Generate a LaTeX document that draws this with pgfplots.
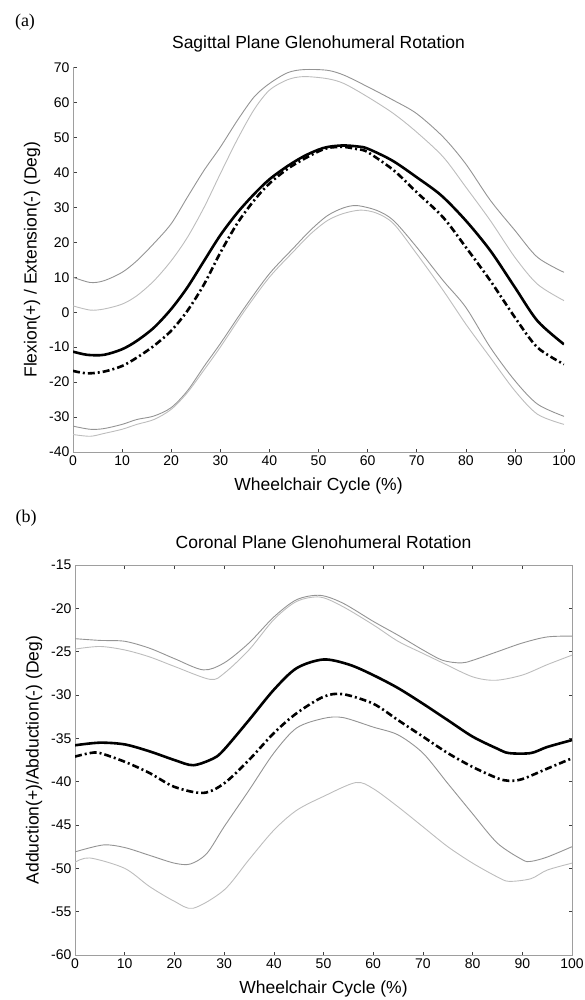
\documentclass[border=0pt]{standalone}
\usepackage{fontspec}
\setmainfont{Liberation Sans}
\newfontfamily\seriffont{Liberation Serif}
\usepackage{pgfplots}
\pgfplotsset{compat=1.18}

\definecolor{gdark}{gray}{0.58}
\definecolor{glight}{gray}{0.74}
\definecolor{axgray}{gray}{0.62}

\pgfplotsset{
  gaitaxis/.style={
    scale only axis,
    font=\fontsize{14}{16}\selectfont,
    tick align=inside, major tick length=3.5pt,
    axis line style={axgray, line width=0.9pt},
    tick style={black!75, line width=0.6pt},
    xmin=0, xmax=100, xtick={0,10,...,100},
    /pgf/number format/assume math mode=true,
    xlabel={Wheelchair Cycle (\%)},
    label style={font=\fontsize{17.5}{20}\selectfont},
    title style={font=\fontsize{17.5}{20}\selectfont, at={(axis description cs:0.5,1)}, anchor=center, yshift=17.5pt},
    xlabel style={at={(axis description cs:0.5,0)}, anchor=center, yshift=-34pt},
    ylabel style={at={(axis description cs:0,0.5)}, anchor=center, rotate=0, yshift=41pt},
  },
  meanA/.style={black, line width=2.6pt, smooth},
  meanB/.style={black, line width=2.6pt, smooth, dash pattern=on 7pt off 3pt on 2pt off 3pt},
  sdA/.style={gdark, line width=0.9pt, smooth},
  sdB/.style={glight, line width=0.9pt, smooth},
}

\begin{document}
\begin{tikzpicture}
\useasboundingbox (0,0) rectangle (584pt,-1000pt);

\node[font=\seriffont\fontsize{18}{20}\selectfont] at (25pt,-22pt) {(a)};
\node[font=\seriffont\fontsize{18}{20}\selectfont] at (26pt,-518pt) {(b)};

% (a) sagittal plane
\begin{axis}[gaitaxis,
    at={(73pt,-452pt)}, anchor=south west,
    width=491pt, height=384.5pt,
    axis x line*=bottom, axis y line*=left,
    ymin=-40, ymax=70, ytick={-40,-30,...,70},
    title={Sagittal Plane Glenohumeral Rotation},
    ylabel={Flexion(+) / Extension(-) (Deg)}]
\addplot[sdA] coordinates {(0,10.0)(3.5,8.5)(6.3,9.0)(10,11.4)(13,14.7)(16.5,19.7)(20,25.3)(23.3,32.9)(26.7,40.6)(30,47.2)(33.5,54.9)(36.9,61.6)(40,65.4)(43.7,68.5)(47,69.4)(51.8,69.2)(55.2,67.8)(60,64.5)(65.3,60.6)(70,56.8)(75.4,50.1)(80,42.4)(85,32.0)(90,23.4)(94.6,15.7)(100,11.4)};
\addplot[sdB] coordinates {(0,1.8)(3.5,0.6)(6.3,0.9)(10,2.3)(13,4.7)(16.5,9.0)(20,14.7)(23.3,21.4)(26.7,30.0)(30,39.6)(33.5,49.5)(36.9,58.0)(40,63.5)(43.7,66.5)(47,67.4)(51.8,66.8)(55.2,65.4)(60,61.6)(65.3,56.8)(70,51.5)(75.4,44.4)(80,35.8)(85,26.2)(90,15.7)(94.6,8.0)(100,3.3)};
\addplot[sdA] coordinates {(0,-32.6)(3.5,-33.5)(6.3,-33.3)(10,-32.1)(13,-30.7)(16.5,-29.7)(20,-27.3)(23.3,-22.5)(26.7,-15.5)(30,-9.0)(35,1.4)(40,11.0)(45,18.5)(48.4,23.5)(51.8,27.6)(55,29.8)(57.8,30.5)(61.9,29.1)(65.3,26.2)(70,18.6)(75.4,9.0)(80,1.4)(85,-10.1)(90,-19.6)(94.6,-26.3)(100,-29.8)};
\addplot[sdB] coordinates {(0,-35.0)(3.5,-35.5)(6.3,-34.7)(10,-33.5)(13,-32.1)(16.5,-30.7)(20,-27.8)(23.3,-23.0)(26.7,-16.5)(30,-10.0)(35,0.5)(40,10.0)(45,17.5)(48.4,22.4)(51.8,26.2)(55,28.2)(58.6,29.2)(61.9,28.3)(65.3,25.3)(70,16.7)(75.4,6.2)(80,-3.4)(85,-13.0)(90,-22.5)(94.6,-29.2)(100,-32.1)};
\addplot[meanA] coordinates {(0,-11.3)(2.9,-12.2)(6.3,-12.2)(10,-10.6)(13,-8.2)(16.5,-4.4)(20,0.9)(23.3,7.1)(26.7,14.7)(30,22.0)(33.5,28.5)(36.9,33.8)(40,38.0)(43.7,41.8)(47,44.6)(50,46.5)(52,47.3)(55,47.7)(58,47.4)(60,46.8)(65,43.4)(70,38.6)(75,33.4)(80,26.2)(85,17.6)(90,7.1)(94.6,-2.5)(100,-9.2)};
\addplot[meanB] coordinates {(0,-16.8)(2.9,-17.5)(6.3,-17.0)(10,-15.4)(13,-13.0)(16.5,-9.6)(20,-5.3)(23.3,0.4)(26.7,8.0)(30,17.0)(33.5,25.5)(36.9,32.0)(40,36.8)(43.7,41.0)(47,43.8)(50,46.0)(52,47.0)(55,47.3)(58,46.6)(60,45.8)(65.3,40.6)(70,34.3)(75.4,27.1)(80,18.6)(85,9.0)(90,-1.5)(94.6,-10.1)(100,-14.9)};
\end{axis}

% (b) coronal plane
\begin{axis}[gaitaxis,
    at={(75pt,-955pt)}, anchor=south west,
    width=497pt, height=390pt,
    ymin=-60, ymax=-15, ytick={-60,-55,...,-15},
    title style={yshift=-0.5pt},
    title={Coronal Plane Glenohumeral Rotation},
    ylabel={Adduction(+)/Abduction(-) (Deg)}]
\addplot[sdA] coordinates {(0,-23.5)(5,-23.7)(10,-23.8)(15,-24.6)(20,-25.8)(25.8,-27.1)(30,-26.3)(35,-24.0)(40,-21.0)(44.6,-19.0)(49.3,-18.5)(53.9,-19.4)(60,-21.5)(65,-23.1)(70,-24.8)(74,-26.0)(77.7,-26.3)(80,-26.0)(85,-25.0)(90,-24.0)(95,-23.3)(100,-23.2)};
\addplot[sdB] coordinates {(0,-24.7)(5,-24.4)(10,-24.8)(15,-25.6)(20,-26.7)(27.2,-28.2)(30,-27.5)(35,-24.8)(40,-21.3)(44.6,-19.2)(49.3,-18.7)(53.9,-19.8)(60,-21.9)(65,-23.8)(70,-25.2)(74,-26.3)(80,-27.9)(84.6,-28.3)(90,-27.7)(95,-26.5)(100,-25.4)};
\addplot[sdA] coordinates {(0,-48.1)(5.7,-47.3)(10,-47.6)(15,-48.5)(20,-49.4)(23.2,-49.5)(26.5,-48.3)(30,-45.2)(35,-41.0)(40,-36.7)(44.6,-33.8)(50,-32.7)(53.9,-32.6)(60,-33.7)(65,-34.6)(70,-36.7)(75,-40.2)(80,-43.7)(85,-47.1)(90,-49.0)(91.7,-49.2)(95,-48.7)(100,-47.5)};
\addplot[sdB] coordinates {(0,-49.3)(3,-48.8)(10,-50.0)(15,-52.1)(20,-53.8)(23.8,-54.6)(30,-52.5)(35,-49.0)(40,-45.6)(44.6,-43.3)(50,-41.7)(56.5,-40.1)(60,-40.8)(65,-42.9)(70,-45.2)(75,-47.5)(80,-49.4)(85,-51.0)(87.3,-51.5)(91.7,-51.2)(95,-50.2)(100,-49.4)};
\addplot[meanA] coordinates {(0,-35.8)(5,-35.5)(10,-35.7)(15,-36.5)(20,-37.5)(23.8,-38.1)(27.9,-37.3)(30,-36.3)(35,-32.9)(40,-29.4)(44.6,-26.9)(50,-25.9)(55.2,-26.5)(60,-27.7)(65,-29.2)(70,-31.0)(75,-32.9)(80,-34.8)(85,-36.2)(87.3,-36.7)(91.7,-36.7)(95,-36.0)(100,-35.2)};
\addplot[meanB] coordinates {(0,-37.1)(3,-36.7)(5,-36.7)(10,-37.7)(15,-39.0)(20,-40.6)(25.8,-41.3)(30,-40.2)(35,-37.5)(40,-34.4)(44.6,-32.1)(50,-30.2)(53.9,-29.9)(60,-31.0)(65,-32.9)(70,-34.8)(75,-36.7)(80,-38.3)(85,-39.6)(87.3,-39.9)(90,-39.7)(95,-38.5)(100,-37.3)};
\end{axis}
\end{tikzpicture}
\end{document}
